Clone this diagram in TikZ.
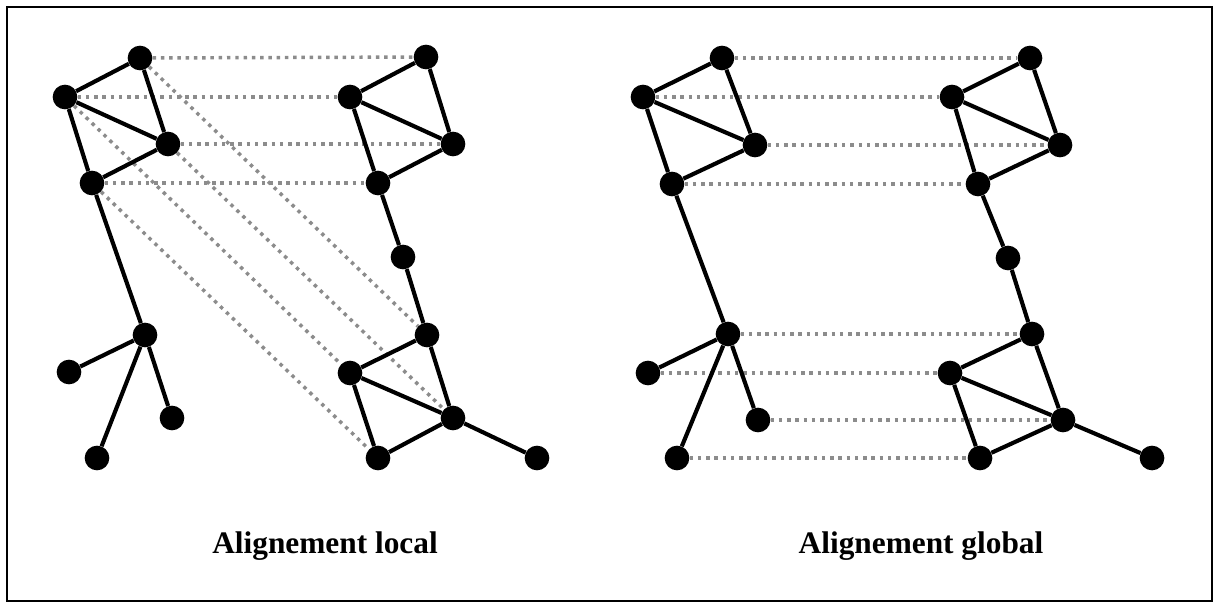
\documentclass[tikz,border=0pt]{standalone}
\usepackage{fontspec}
\setmainfont{Liberation Serif}
\begin{document}
\begin{tikzpicture}[x=0.75pt,y=-0.75pt,
  vtx/.style={circle,fill=black,inner sep=0pt,minimum size=18.5pt},
  edge/.style={line width=3.1pt,black},
  match/.style={line width=2.6pt,draw=black!45,dash pattern=on 2.6pt off 3.6pt},
  caption/.style={font=\fontsize{23.5}{28}\selectfont\bfseries,anchor=base}]
\useasboundingbox (0,0) rectangle (1219,608);
\draw[line width=1.5pt] (7,7) rectangle (1212,601);

% ---------- local alignment ----------
\node[vtx] (A) at (140,58) {};
\node[vtx] (B) at (65,97) {};
\node[vtx] (C) at (168,144) {};
\node[vtx] (D) at (92,183) {};
\node[vtx] (E) at (145,335) {};
\node[vtx] (F) at (69,372) {};
\node[vtx] (G) at (172,418) {};
\node[vtx] (H) at (97,458) {};
\node[vtx] (a) at (426,57) {};
\node[vtx] (b) at (350,97) {};
\node[vtx] (c) at (453,144) {};
\node[vtx] (d) at (378,183) {};
\node[vtx] (e) at (403,257) {};
\node[vtx] (f) at (427,335) {};
\node[vtx] (g) at (350,373) {};
\node[vtx] (h) at (453,418) {};
\node[vtx] (i) at (378,458) {};
\node[vtx] (j) at (537,458) {};

\draw[match] (A) -- (a);
\draw[match] (B) -- (b);
\draw[match] (C) -- (c);
\draw[match] (D) -- (d);
\draw[match] (A) -- (f);
\draw[match] (B) -- (g);
\draw[match] (C) -- (h);
\draw[match] (D) -- (i);

\draw[edge] (A) -- (B) (A) -- (C) (B) -- (C) (B) -- (D) (C) -- (D)
  (D) -- (E) (E) -- (F) (E) -- (G) (E) -- (H);
\draw[edge] (a) -- (b) (a) -- (c) (b) -- (c) (b) -- (d) (c) -- (d)
  (d) -- (e) (e) -- (f) (f) -- (g) (f) -- (h) (g) -- (h) (g) -- (i)
  (h) -- (i) (h) -- (j);

% ---------- global alignment ----------
\node[vtx] (A2) at (722,58) {};
\node[vtx] (B2) at (643,97) {};
\node[vtx] (C2) at (755,145) {};
\node[vtx] (D2) at (672,184) {};
\node[vtx] (E2) at (728,334) {};
\node[vtx] (F2) at (648,373) {};
\node[vtx] (G2) at (758,420) {};
\node[vtx] (H2) at (677,458) {};
\node[vtx] (a2) at (1030,58) {};
\node[vtx] (b2) at (952,97) {};
\node[vtx] (c2) at (1060,145) {};
\node[vtx] (d2) at (978,184) {};
\node[vtx] (e2) at (1008,258) {};
\node[vtx] (f2) at (1032,334) {};
\node[vtx] (g2) at (950,373) {};
\node[vtx] (h2) at (1063,420) {};
\node[vtx] (i2) at (980,458) {};
\node[vtx] (j2) at (1152,458) {};

\draw[match] (A2) -- (a2);
\draw[match] (B2) -- (b2);
\draw[match] (C2) -- (c2);
\draw[match] (D2) -- (d2);
\draw[match] (E2) -- (f2);
\draw[match] (F2) -- (g2);
\draw[match] (G2) -- (h2);
\draw[match] (H2) -- (i2);

\draw[edge] (A2) -- (B2) (A2) -- (C2) (B2) -- (C2) (B2) -- (D2) (C2) -- (D2)
  (D2) -- (E2) (E2) -- (F2) (E2) -- (G2) (E2) -- (H2);
\draw[edge] (a2) -- (b2) (a2) -- (c2) (b2) -- (c2) (b2) -- (d2) (c2) -- (d2)
  (d2) -- (e2) (e2) -- (f2) (f2) -- (g2) (f2) -- (h2) (g2) -- (h2) (g2) -- (i2)
  (h2) -- (i2) (h2) -- (j2);

% ---------- captions ----------
\node[caption] (capL) at (325,553) {Alignement local};
\node[caption] (capR) at (921,553) {Alignement global};
\end{tikzpicture}
\end{document}
